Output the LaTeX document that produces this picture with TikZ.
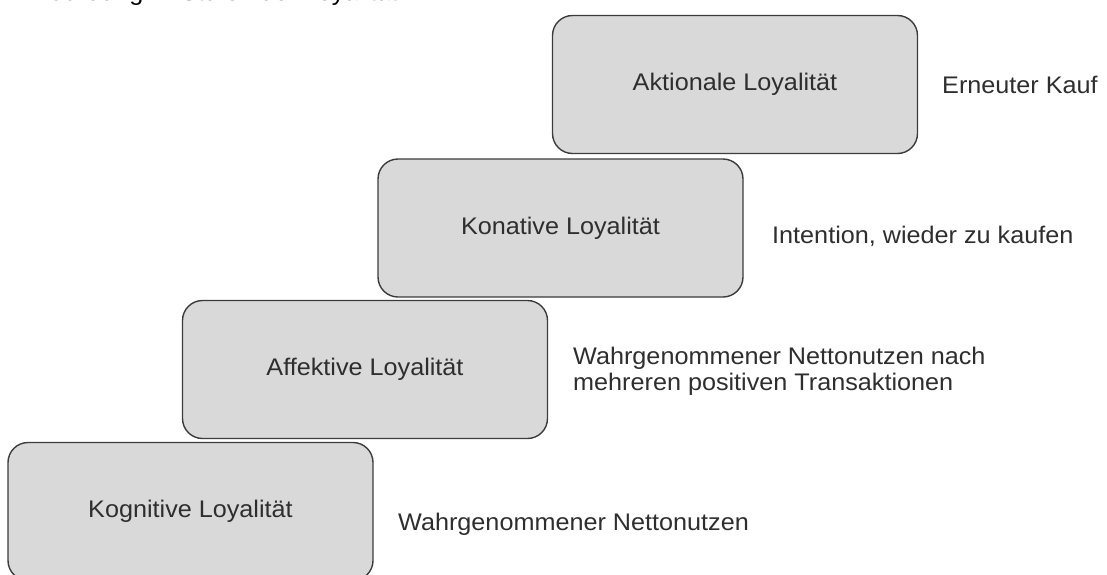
\documentclass[tikz,border=0pt]{standalone}
\usepackage{fontspec}
\setmainfont{Liberation Sans}[FakeStretch=1.05]
\definecolor{boxfill}{HTML}{D9D9D9}
\definecolor{boxline}{HTML}{3C3C3C}
\definecolor{ink}{HTML}{2E2E2E}
\begin{document}
\begin{tikzpicture}[x=1pt,y=-1pt,
  stage/.style={draw=boxline, fill=boxfill, line width=1.4pt,
    rounded corners=20pt, minimum width=365pt, minimum height=138pt,
    inner sep=0pt, text=ink, font=\fontsize{24}{26}\selectfont},
  note/.style={anchor=base west, inner sep=0pt, align=left, text=ink,
    font=\fontsize{24}{26}\selectfont},
  caption/.style={anchor=base west, inner sep=0pt, text=black,
    font=\fontsize{24}{26}\selectfont}]
\useasboundingbox (0,0) rectangle (1107,574);
\clip (0,0) rectangle (1107,574);

% caption line, lying above the frame so only its lowest strokes show
\node[caption] (fig) at (31,0.5) {Abbildung 4: Stufen der Loyalität};

% the four stages, stepping up from left to right
\node[stage] (kog) at (190.5,511.5) {Kognitive Loyalität};
\node[stage] (aff) at (365,369.5)   {Affektive Loyalität};
\node[stage] (kon) at (560.5,228)   {Konative Loyalität};
\node[stage] (akt) at (735,84.5)    {Aktionale Loyalität};

% descriptions beside each stage (base = baseline of the last line)
\node[note] (aktnote) at (942,93)  {Erneuter Kauf};
\node[note] (konnote) at (772,243) {Intention, wieder zu kaufen};
\node[note] (affnote) at (573,390) {Wahrgenommener Nettonutzen nach\\mehreren positiven Transaktionen};
\node[note] (kognote) at (398,530) {Wahrgenommener Nettonutzen};
\end{tikzpicture}
\end{document}
